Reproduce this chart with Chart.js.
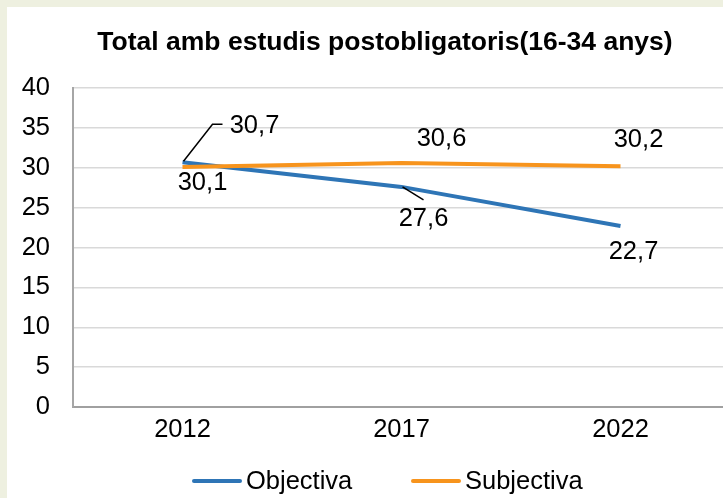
<!DOCTYPE html>
<html lang="ca">
<head>
    <meta charset="UTF-8">
    <title>Total amb estudis postobligatoris(16-34 anys)</title>
    <script src="https://cdn.jsdelivr.net/npm/chart.js"></script>
    <style>
        html, body {
            margin: 0;
            padding: 0;
            width: 723px;
            height: 498px;
            overflow: hidden;
            background-color: #eef0e0;
        }
        #wrap {
            position: absolute;
            left: 7px;
            top: 7px;
            width: 723px;
            height: 491px;
            background-color: #ffffff;
        }
    </style>
</head>
<body>
    <div id="wrap">
        <canvas id="chart" width="723" height="491"></canvas>
    </div>

    <script>
        // dades
        const years = ['2012', '2017', '2022'];
        const objectiva = [30.7, 27.6, 22.7];
        const subjectiva = [30.1, 30.6, 30.2];
        const seriesNames = ['Objectiva', 'Subjectiva'];
        const titleText = 'Total amb estudis postobligatoris(16-34 anys)';

        const BLUE = '#2e75b6';
        const ORANGE = '#f7941d';
        const FONT = "'Liberation Sans', Arial, sans-serif";

        // posició de les etiquetes respecte al punt (dx, dy) i línia guia opcional
        const labelPlacement = [
            [ {dx: 72, dy: -36, leader: [[1, -1], [30, -38], [40, -38]]},
              {dx: 22, dy: 32, leader: [[1, 0], [22, 13]]},
              {dx: 13, dy: 26} ],
            [ {dx: 20, dy: 16},
              {dx: 40, dy: -24},
              {dx: 18, dy: -26} ]
        ];

        const dataLabels = {
            id: 'dataLabels',
            afterDatasetsDraw(chart) {
                const ctx = chart.ctx;
                ctx.save();
                ctx.font = '25.5px ' + FONT;
                ctx.fillStyle = '#000';
                ctx.textAlign = 'center';
                ctx.textBaseline = 'middle';
                chart.data.datasets.forEach((ds, di) => {
                    const meta = chart.getDatasetMeta(di);
                    meta.data.forEach((pt, i) => {
                        const p = labelPlacement[di][i];
                        if (p.leader) {
                            ctx.strokeStyle = '#000';
                            ctx.lineWidth = 1.5;
                            ctx.beginPath();
                            p.leader.forEach((q, k) => {
                                if (k === 0) ctx.moveTo(pt.x + q[0], pt.y + q[1]);
                                else ctx.lineTo(pt.x + q[0], pt.y + q[1]);
                            });
                            ctx.stroke();
                        }
                        const txt = ds.data[i].toFixed(1).replace('.', ',');
                        ctx.fillText(txt, pt.x + p.dx, pt.y + p.dy);
                    });
                });
                ctx.restore();
            }
        };

        // títol i llegenda dibuixats a mà
        const titleAndLegend = {
            id: 'titleAndLegend',
            afterDraw(chart) {
                const ctx = chart.ctx;
                ctx.save();
                ctx.fillStyle = '#000';
                ctx.textBaseline = 'middle';
                ctx.textAlign = 'center';
                ctx.font = 'bold 26.5px ' + FONT;
                ctx.fillText(titleText, 378, 36);

                const xs = [185, 404];
                const y = 474;
                ctx.font = '25.5px ' + FONT;
                ctx.textAlign = 'left';
                chart.data.datasets.forEach((ds, i) => {
                    ctx.strokeStyle = ds.borderColor;
                    ctx.lineWidth = 4;
                    ctx.lineCap = 'round';
                    ctx.beginPath();
                    ctx.moveTo(xs[i] + 2, y);
                    ctx.lineTo(xs[i] + 48, y);
                    ctx.stroke();
                    ctx.fillStyle = '#000';
                    ctx.fillText(ds.label, xs[i] + 54, y + 1);
                });
                ctx.restore();
            }
        };

        const ctx = document.getElementById('chart').getContext('2d');
        new Chart(ctx, {
            type: 'line',
            data: {
                labels: years,
                datasets: [
                    {
                        label: seriesNames[0],
                        data: objectiva,
                        borderColor: BLUE,
                        backgroundColor: BLUE,
                        borderWidth: 4,
                        pointRadius: 0,
                        tension: 0,
                        order: 1
                    },
                    {
                        label: seriesNames[1],
                        data: subjectiva,
                        borderColor: ORANGE,
                        backgroundColor: ORANGE,
                        borderWidth: 4,
                        pointRadius: 0,
                        tension: 0,
                        order: 0
                    }
                ]
            },
            options: {
                responsive: false,
                animation: false,
                layout: {
                    padding: {left: 0, right: 0, top: 81, bottom: 41}
                },
                plugins: {
                    legend: {display: false},
                    tooltip: {enabled: false},
                    title: {display: false}
                },
                scales: {
                    x: {
                        offset: true,
                        grid: {display: false, drawTicks: false},
                        border: {display: true, color: '#a0a0a0', width: 2},
                        ticks: {
                            color: '#000',
                            font: {family: FONT, size: 25.5},
                            padding: 8
                        },
                        afterFit(scale) { scale.height = 50; }
                    },
                    y: {
                        min: 0,
                        max: 40,
                        ticks: {
                            stepSize: 5,
                            color: '#000',
                            font: {family: FONT, size: 25.5},
                            padding: 23
                        },
                        grid: {color: '#d9d9d9', lineWidth: 1.5, drawTicks: false},
                        border: {display: true, color: '#a6a6a6', width: 2},
                        afterFit(scale) { scale.width = 66; }
                    }
                }
            },
            plugins: [dataLabels, titleAndLegend]
        });
    </script>
</body>
</html>
